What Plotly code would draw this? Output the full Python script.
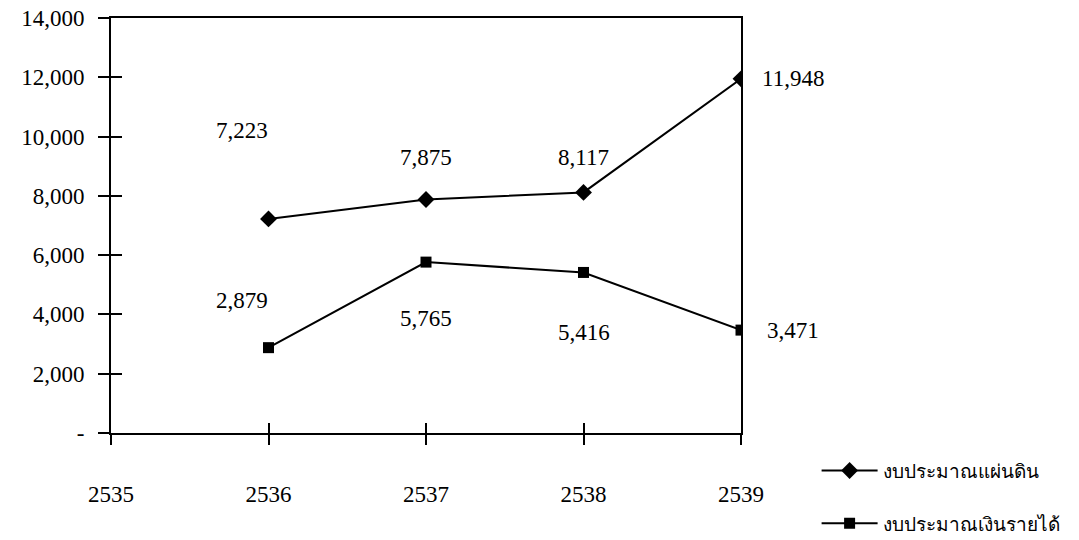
import plotly.graph_objects as go

years = [2536, 2537, 2538, 2539]
x_ticks = [2535, 2536, 2537, 2538, 2539]
series1_name = "งบประมาณแผ่นดิน"
series1 = [7223, 7875, 8117, 11948]
series2_name = "งบประมาณเงินรายได้"
series2 = [2879, 5765, 5416, 3471]
y_ticks = [0, 2000, 4000, 6000, 8000, 10000, 12000, 14000]
y_ticktext = ["-", "2,000", "4,000", "6,000", "8,000", "10,000", "12,000", "14,000"]

# label pixel offsets (style)
off1 = [(-27, 88), (0, 42), (0, 35), (52, 0)]
off2 = [(-27, 47), (0, -56), (0, -60), (52, 0)]

FONT = "Liberation Serif, Times New Roman, serif"
FS = 23

fig = go.Figure()
fig.add_trace(go.Scatter(x=years, y=series1, name=series1_name, mode="lines+markers",
                         line=dict(color="black", width=2),
                         marker=dict(symbol="diamond", size=13, color="black"),
                         legend="legend"))
fig.add_trace(go.Scatter(x=years, y=series2, name=series2_name, mode="lines+markers",
                         line=dict(color="black", width=2),
                         marker=dict(symbol="square", size=11, color="black"),
                         legend="legend2"))

# invisible trace to activate overlay axes
fig.add_trace(go.Scatter(x=[years[0]], y=[series1[0]], xaxis="x2", yaxis="y2",
                         mode="markers", marker=dict(opacity=0), showlegend=False,
                         hoverinfo="skip"))

annotations = []
for xs, ys, offs in [(years, series1, off1), (years, series2, off2)]:
    for xv, yv, (dx, dy) in zip(xs, ys, offs):
        annotations.append(dict(x=xv, y=yv, xref="x", yref="y", text=f"{yv:,}",
                                showarrow=False, xshift=dx, yshift=dy,
                                font=dict(family=FONT, size=FS, color="black")))

fig.update_layout(
    width=1079, height=540,
    margin=dict(l=111, r=338, t=18, b=107, autoexpand=False),
    paper_bgcolor="white", plot_bgcolor="white",
    font=dict(family=FONT, size=FS, color="black"),
    xaxis=dict(range=[2535, 2539], tickvals=x_ticks, ticktext=[str(v) for v in x_ticks],
               showgrid=False, zeroline=False, showline=True, linecolor="black",
               linewidth=2, mirror=True, ticks="outside", ticklen=10, tickwidth=1.5,
               tickcolor="black", ticklabelstandoff=29, automargin=False,
               tickfont=dict(family=FONT, size=FS)),
    yaxis=dict(range=[0, 14000], tickvals=y_ticks, ticktext=y_ticktext,
               showgrid=False, zeroline=False, showline=True, linecolor="black",
               linewidth=2, mirror=True, ticks="outside", ticklen=11, tickwidth=1.5,
               tickcolor="black", ticklabelstandoff=9, automargin=False,
               tickfont=dict(family=FONT, size=FS)),
    xaxis2=dict(overlaying="x", range=[2535, 2539], tickvals=x_ticks[1:], showticklabels=False,
                ticks="inside", ticklen=10, tickwidth=1.5, tickcolor="black", automargin=False,
                showgrid=False, zeroline=False, showline=False, side="bottom"),
    yaxis2=dict(overlaying="y", range=[0, 14000], tickvals=y_ticks[1:-1], showticklabels=False,
                ticks="inside", ticklen=11, tickwidth=1.5, tickcolor="black", automargin=False,
                showgrid=False, zeroline=False, showline=False, side="left"),
    legend=dict(x=1.12, y=-0.045, xanchor="left", yanchor="top", itemwidth=56,
                font=dict(family="Noto Sans, sans-serif", size=19), bgcolor="rgba(0,0,0,0)"),
    legend2=dict(x=1.12, y=-0.172, xanchor="left", yanchor="top", itemwidth=56,
                 font=dict(family="Noto Sans, sans-serif", size=19), bgcolor="rgba(0,0,0,0)"),
    annotations=annotations,
    showlegend=True,
)

fig.write_html("out.html", config={"displayModeBar": False},
               post_script="document.body.style.margin='0';document.body.style.overflow='hidden';")
